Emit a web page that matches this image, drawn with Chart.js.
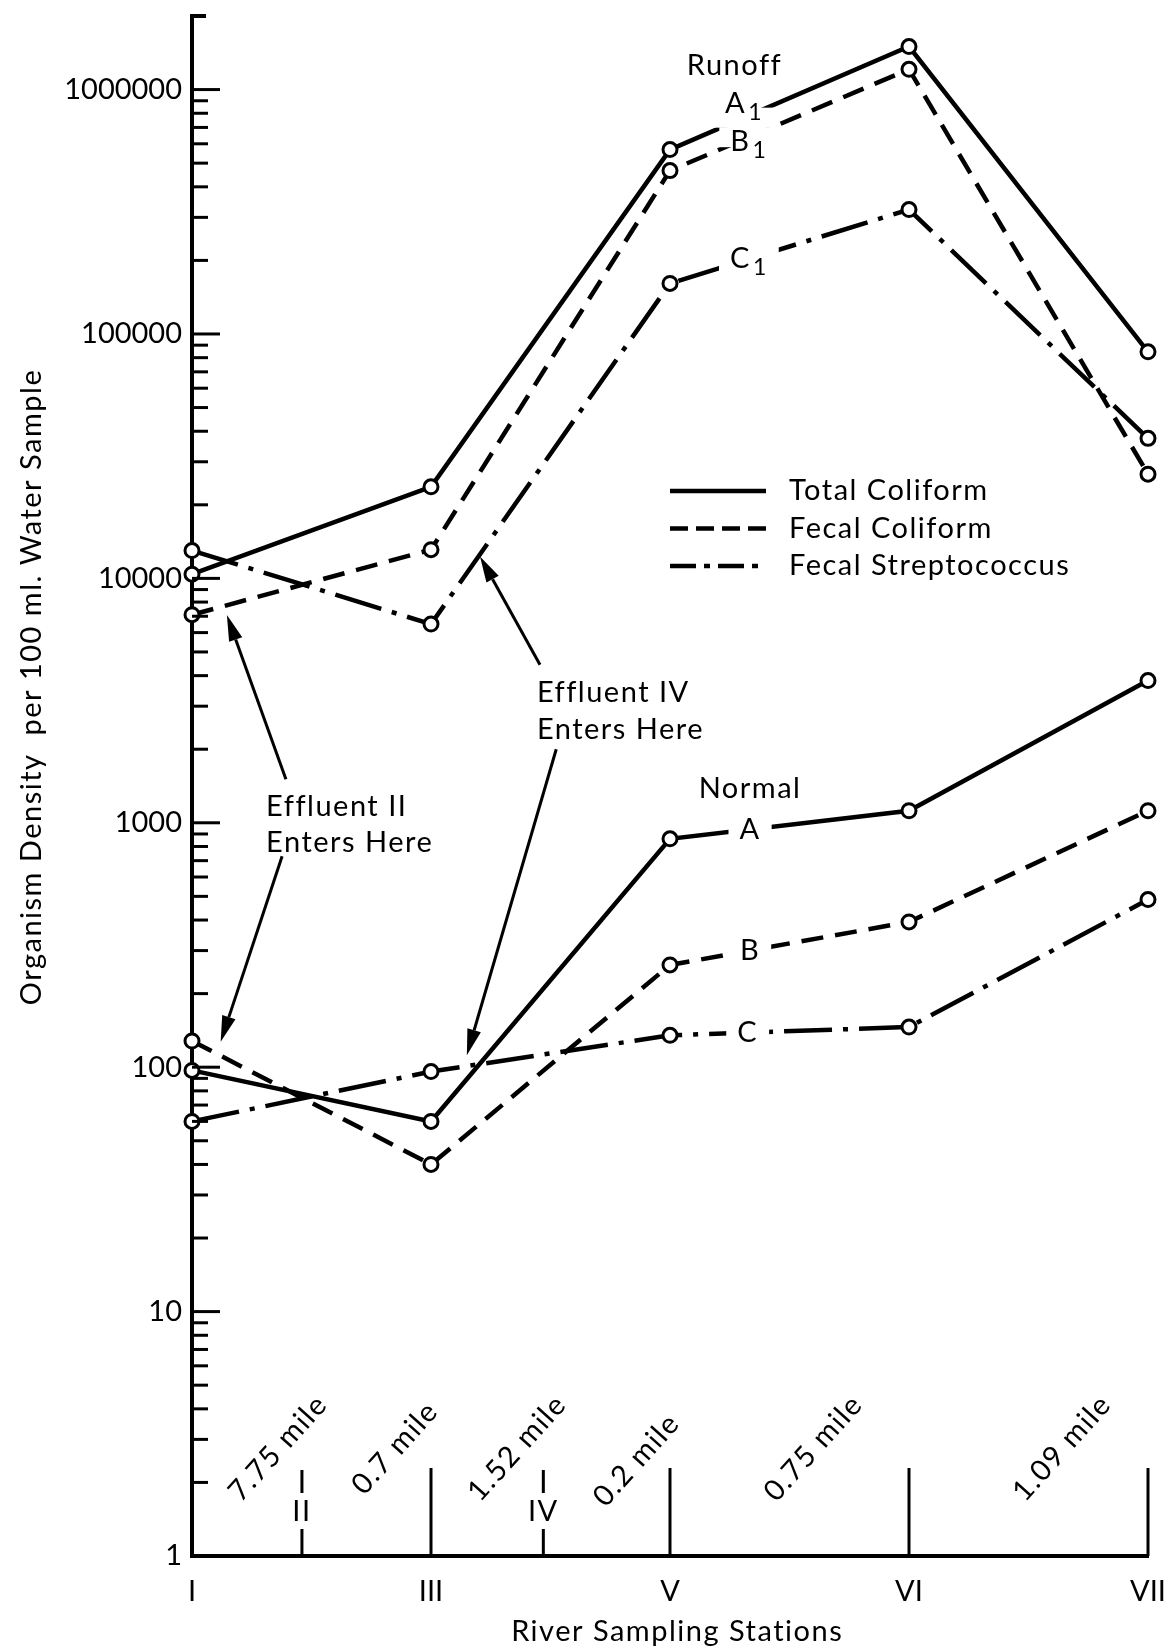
<!DOCTYPE html>
<html>
<head>
<meta charset="utf-8">
<script src="https://cdn.jsdelivr.net/npm/chart.js@4.4.1/dist/chart.umd.min.js"></script>
<style>
  html, body { margin: 0; padding: 0; background: #fff; }
  #wrap { width: 1170px; height: 1652px; }
</style>
</head>
<body>
<div id="wrap"><canvas id="myChart"></canvas></div>
<script>
// ------------------ du lieu -------------------
var stationLabels = ['I', 'III', 'V', 'VI', 'VII'];
var stationPos = [0, 1, 2, 3, 4];
var effluentLabels = ['II', 'IV'];
var effluentPos = [0.46, 1.47];
var mileLabels = ['7.75 mile', '0.7 mile', '1.52 mile', '0.2 mile', '0.75 mile', '1.09 mile'];
var milePos = [0.36, 0.85, 1.36, 1.86, 2.6, 3.64];
var yMajorTicks = [1, 10, 100, 1000, 10000, 100000, 1000000];

// Runoff (A1, B1, C1)
var runoffTotal = [10400, 23700, 568000, 1500000, 84500];
var runoffFecalColi = [7100, 13100, 466000, 1210000, 26700];
var runoffFecalStrep = [13000, 6500, 161000, 323000, 37400];

// Normal (A, B, C)
var normalTotal = [97, 60, 860, 1120, 3820];
var normalFecalColi = [128, 40, 262, 393, 1120];
var normalFecalStrep = [60, 96, 135, 146, 485];

var legendLabels = ['Total Coliform', 'Fecal Coliform', 'Fecal Streptococcus'];

var fontFam = 'Lato, "DejaVu Sans", sans-serif';
var dashed = [22, 12];
var dashDot = [48, 11, 5, 11];

// cac vach phu tren truc y (2..9 moi thap phan)
var yMinorTicks = [];
for (var d = 1; d < 1000000; d *= 10) {
  for (var m = 2; m <= 9; m++) yMinorTicks.push(m * d);
}

function pts(arr) {
  return stationPos.map(function (x, i) { return { x: x, y: arr[i] }; });
}

function makeSet(label, arr, dash) {
  return {
    label: label,
    data: pts(arr),
    borderColor: '#000',
    borderWidth: 4.5,
    borderDash: dash,
    tension: 0,
    pointRadius: 7,
    pointBorderWidth: 3,
    pointBorderColor: '#000',
    pointBackgroundColor: '#fff',
    clip: false
  };
}

// ------------------ plugin ve chu thich -------------------
var paperPlugin = {
  id: 'paper',
  afterDatasetsDraw: function (chart) {
    var c = chart.ctx;
    var xs = chart.scales.x, ys = chart.scales.y;
    var area = chart.chartArea;
    var X = function (v) { return xs.getPixelForValue(v); };
    var Y = function (v) { return ys.getPixelForValue(v); };
    var F = '29px ' + fontFam;
    c.save();
    c.fillStyle = '#000';
    c.strokeStyle = '#000';
    c.lineCap = 'butt';
    c.letterSpacing = '1.5px';

    // vach chia truc y huong vao trong
    c.lineWidth = 3;
    yMajorTicks.forEach(function (v) {
      if (v === 1) return;
      c.beginPath(); c.moveTo(area.left, Y(v)); c.lineTo(area.left + 28, Y(v)); c.stroke();
    });
    yMinorTicks.forEach(function (v) {
      c.beginPath(); c.moveTo(area.left, Y(v)); c.lineTo(area.left + 16, Y(v)); c.stroke();
    });
    c.lineWidth = 4;
    c.beginPath(); c.moveTo(area.left - 2, area.top); c.lineTo(area.left + 14, area.top); c.stroke();

    // vach cac tram
    c.lineWidth = 3;
    stationPos.forEach(function (p) {
      if (p === 0) return;
      c.beginPath(); c.moveTo(X(p), area.bottom); c.lineTo(X(p), area.bottom - 88); c.stroke();
    });
    c.font = F;
    c.textAlign = 'center';
    c.textBaseline = 'middle';
    effluentPos.forEach(function (p, i) {
      c.beginPath(); c.moveTo(X(p), area.bottom - 86); c.lineTo(X(p), area.bottom - 63); c.stroke();
      c.beginPath(); c.moveTo(X(p), area.bottom - 27); c.lineTo(X(p), area.bottom); c.stroke();
      c.fillText(effluentLabels[i], X(p), area.bottom - 44);
    });

    // khoang cach (mile) xoay nghieng
    mileLabels.forEach(function (t, i) {
      c.save();
      c.translate(X(milePos[i]), area.bottom - 108 + (i === 3 ? 12 : 0));
      c.rotate(-48 * Math.PI / 180);
      c.fillText(t, 0, 0);
      c.restore();
    });

    // nhan tren duong (A1, B1, C1, A, B, C)
    function lineY(arr, x) {
      var i = Math.floor(x), f = x - i;
      var lg = Math.log10(arr[i]) + (Math.log10(arr[i + 1]) - Math.log10(arr[i])) * f;
      return Y(Math.pow(10, lg));
    }
    function lineLabel(arr, x, letter, sub, dy, boxH) {
      var cx = X(x), ly = lineY(arr, x);
      c.font = F;
      var wl = c.measureText(letter).width;
      c.font = '23px ' + fontFam;
      var ws = sub ? c.measureText(sub).width + 2 : 0;
      var tw = wl + ws;
      c.fillStyle = '#fff';
      c.fillRect(cx - tw / 2 - 11, ly - boxH / 2, tw + 22, boxH);
      c.fillStyle = '#000';
      c.textAlign = 'left';
      c.textBaseline = 'middle';
      c.font = F;
      c.fillText(letter, cx - tw / 2, ly + dy);
      if (sub) {
        c.font = '23px ' + fontFam;
        c.fillText(sub, cx - tw / 2 + wl + 2, ly + dy + 9);
      }
    }
    lineLabel(runoffTotal, 2.31, 'A', '1', -14, 20);
    lineLabel(runoffFecalColi, 2.33, 'B', '1', 4, 20);
    lineLabel(runoffFecalStrep, 2.33, 'C', '1', 0, 28);
    lineLabel(normalTotal, 2.335, 'A', '', 0, 28);
    lineLabel(normalFecalColi, 2.335, 'B', '', 0, 28);
    lineLabel(normalFecalStrep, 2.325, 'C', '', 0, 28);

    // chu chu thich
    c.font = F;
    c.textAlign = 'center';
    c.fillText('Runoff', X(2.27), Y(1250000));
    c.fillText('Normal', X(2.335), Y(1384));
    c.textAlign = 'left';
    c.fillText('Effluent II', X(0.31), Y(1169));
    c.fillText('Enters Here', X(0.31), Y(832));
    c.fillText('Effluent IV', X(1.443), Y(3400));
    c.fillText('Enters Here', X(1.443), Y(2400));

    // mui ten
    function arrow(x0, v0, x1, v1) {
      var ax = X(x0), ay = Y(v0), bx = X(x1), by = Y(v1);
      var ang = Math.atan2(by - ay, bx - ax);
      var L = 26, W = 7;
      var hx = bx - L * Math.cos(ang), hy = by - L * Math.sin(ang);
      c.lineWidth = 3;
      c.beginPath(); c.moveTo(ax, ay); c.lineTo(hx, hy); c.stroke();
      c.beginPath();
      c.moveTo(bx, by);
      c.lineTo(hx + W * Math.sin(ang), hy - W * Math.cos(ang));
      c.lineTo(hx - W * Math.sin(ang), hy + W * Math.cos(ang));
      c.closePath(); c.fill();
    }
    arrow(0.393, 1507, 0.146, 7080);
    arrow(0.377, 729, 0.12, 127);
    arrow(1.456, 4430, 1.205, 12300);
    arrow(1.524, 2000, 1.15, 112);

    // chu giai
    var lx = X(2.0), ly0 = Y(22800);
    var dashes = [[], [18, 8], [26, 8, 6, 8]];
    legendLabels.forEach(function (t, i) {
      var ly = ly0 + i * 37.5;
      c.lineWidth = 4.5;
      c.setLineDash(dashes[i]);
      c.beginPath(); c.moveTo(lx, ly); c.lineTo(lx + 96, ly); c.stroke();
      c.setLineDash([]);
      c.font = F;
      c.textAlign = 'left';
      c.textBaseline = 'middle';
      c.fillText(t, lx + 119, ly);
    });

    // tieu de truc x
    c.textAlign = 'center';
    c.fillText('River Sampling Stations', X(2.03), 1632);

    // tieu de truc y
    c.save();
    c.translate(32, 687);
    c.rotate(-Math.PI / 2);
    c.textAlign = 'center';
    c.font = F;
    c.fillText('Organism Density  per 100 ml. Water Sample', 0, 0);
    c.restore();

    c.restore();
  }
};

// ------------------ ve bieu do -------------------
var ctx = document.getElementById('myChart').getContext('2d');
var myChart = new Chart(ctx, {
  type: 'line',
  data: {
    datasets: [
      makeSet('Runoff Total Coliform', runoffTotal, []),
      makeSet('Runoff Fecal Coliform', runoffFecalColi, dashed),
      makeSet('Runoff Fecal Streptococcus', runoffFecalStrep, dashDot),
      makeSet('Normal Total Coliform', normalTotal, []),
      makeSet('Normal Fecal Coliform', normalFecalColi, dashed),
      makeSet('Normal Fecal Streptococcus', normalFecalStrep, dashDot)
    ]
  },
  options: {
    responsive: true,
    maintainAspectRatio: false,
    animation: false,
    layout: { padding: { top: 16, right: 22, left: 0, bottom: 0 } },
    plugins: {
      legend: { display: false },
      tooltip: { enabled: false }
    },
    scales: {
      x: {
        type: 'linear',
        min: 0,
        max: 4,
        grid: { display: false, drawTicks: false },
        border: { display: true, color: '#000', width: 4 },
        afterBuildTicks: function (s) { s.ticks = stationPos.map(function (v) { return { value: v }; }); },
        afterFit: function (s) { s.height = 96; s.paddingLeft = 0; s.paddingRight = 0; },
        ticks: {
          color: '#000',
          padding: 18,
          maxRotation: 0,
          font: { family: fontFam, size: 29 },
          callback: function (v) { return stationLabels[stationPos.indexOf(v)]; }
        }
      },
      y: {
        type: 'logarithmic',
        min: 1,
        max: 2000000,
        grid: { display: false, drawTicks: false },
        border: { display: true, color: '#000', width: 4 },
        afterBuildTicks: function (s) { s.ticks = yMajorTicks.map(function (v) { return { value: v }; }); },
        afterFit: function (s) { s.width = 192; s.paddingTop = 0; s.paddingBottom = 0; },
        ticks: {
          color: '#000',
          padding: 10,
          font: { family: fontFam, size: 29 },
          callback: function (v) { return String(v); }
        }
      }
    }
  },
  plugins: [paperPlugin]
});
</script>
</body>
</html>
